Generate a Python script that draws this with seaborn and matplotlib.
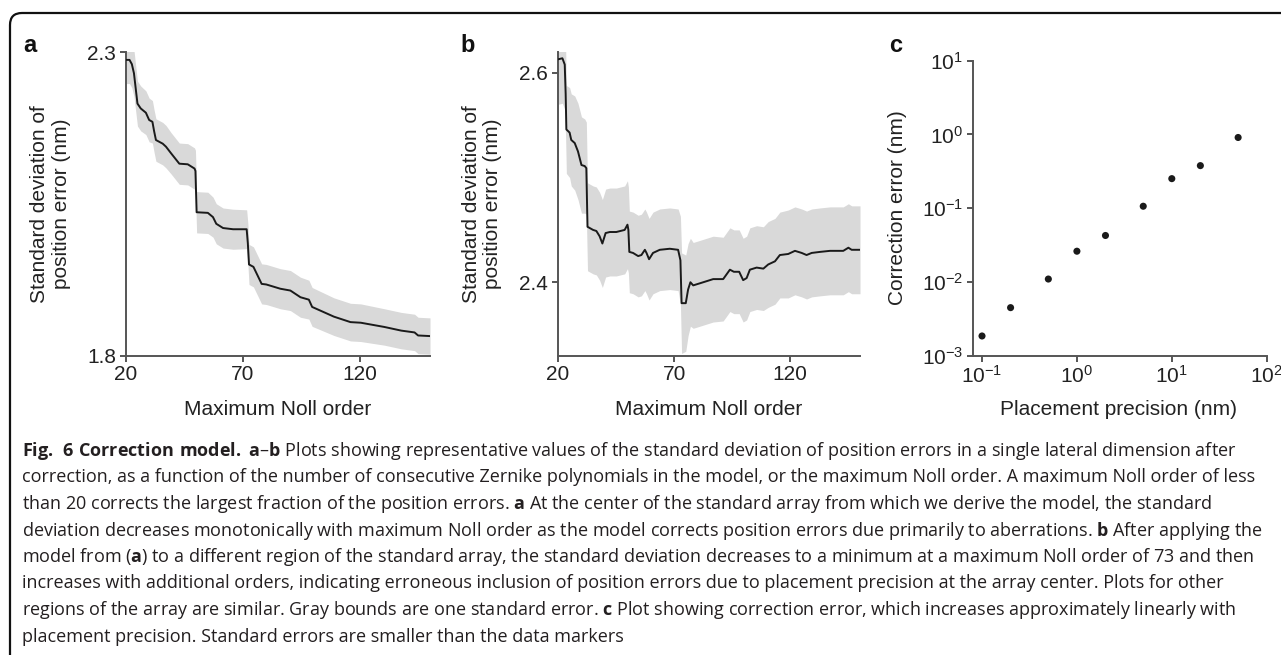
import numpy as np
import pandas as pd
import matplotlib
matplotlib.use("Agg")
import matplotlib.pyplot as plt
import seaborn as sns
from matplotlib.patches import FancyBboxPatch
from matplotlib.transforms import IdentityTransform
from matplotlib.ticker import LogLocator, NullLocator, FixedLocator

# ---------------- data ----------------
# Panel a: SD of position error vs maximum Noll order (array centre)
noll_a = [20, 21.5, 22.5, 23.4, 24.9, 26.3, 28.5, 29.9, 31.3, 32.0, 32.8, 35.7, 37.1,
          39.3, 42.8, 46.4, 49.3, 49.7, 50.2, 55.0, 57.2, 58.6, 61.5, 65.8, 71.6, 72.1,
          72.6, 74.5, 78.0, 80.0, 86.0, 90.3, 94.6, 98.2, 99.6, 108.9, 116.0, 120.4,
          130.5, 137.7, 143.4, 144.9, 150]
sd_a = [2.287, 2.287, 2.280, 2.265, 2.215, 2.207, 2.200, 2.188, 2.185, 2.170, 2.155,
        2.149, 2.144, 2.133, 2.116, 2.115, 2.108, 2.104, 2.036, 2.035, 2.028, 2.017,
        2.010, 2.008, 2.008, 1.985, 1.950, 1.946, 1.918, 1.917, 1.910, 1.907, 1.896,
        1.892, 1.880, 1.864, 1.855, 1.854, 1.847, 1.841, 1.838, 1.833, 1.832]
se_a = [0.039, 0.039, 0.039, 0.038, 0.037, 0.037, 0.036, 0.036, 0.035, 0.035, 0.035,
        0.035, 0.035, 0.034, 0.034, 0.034, 0.034, 0.034, 0.034, 0.034, 0.033, 0.033,
        0.033, 0.033, 0.032, 0.033, 0.033, 0.033, 0.033, 0.033, 0.033, 0.033, 0.033,
        0.032, 0.032, 0.031, 0.031, 0.031, 0.030, 0.030, 0.030, 0.030, 0.030]

# Panel b: same model applied to a different region of the array
noll_b = [20, 21.9, 22.9, 23.3, 23.6, 25.0, 25.7, 27.2, 28.6, 30.1, 31.5, 32.2, 32.7,
          35.1, 36.5, 37.9, 39.1, 40.5, 42.3, 45.1, 48.7, 49.9, 50.3, 50.7, 52.3, 54.5,
          55.9, 57.4, 58.1, 59.2, 60.9, 63.8, 68.1, 71.7, 72.7, 73.2, 75.0, 76.0, 77.0,
          78.2, 81.1, 86.8, 91.1, 94.0, 95.7, 98.0, 99.7, 101.2, 102.6, 105.5, 108.4,
          110.5, 113.4, 115.5, 119.1, 122.0, 124.9, 127.0, 129.2, 132.8, 137.1, 142.8,
          145.0, 146.4, 150]
sd_b = [2.613, 2.614, 2.608, 2.580, 2.546, 2.543, 2.536, 2.533, 2.525, 2.512, 2.511,
        2.509, 2.453, 2.450, 2.449, 2.444, 2.437, 2.447, 2.448, 2.448, 2.450, 2.455,
        2.450, 2.429, 2.428, 2.425, 2.426, 2.431, 2.428, 2.422, 2.428, 2.431, 2.432,
        2.431, 2.421, 2.380, 2.380, 2.393, 2.400, 2.397, 2.399, 2.403, 2.403, 2.412,
        2.410, 2.410, 2.402, 2.404, 2.412, 2.414, 2.413, 2.417, 2.420, 2.426, 2.427,
        2.430, 2.428, 2.426, 2.428, 2.429, 2.430, 2.430, 2.433, 2.431, 2.431]
se_b = [0.043, 0.043, 0.043, 0.043, 0.042, 0.043, 0.044, 0.045, 0.046, 0.046, 0.045,
        0.044, 0.042, 0.042, 0.042, 0.042, 0.042, 0.042, 0.042, 0.042, 0.042, 0.042,
        0.041, 0.039, 0.039, 0.039, 0.039, 0.039, 0.039, 0.039, 0.039, 0.039, 0.039,
        0.039, 0.042, 0.048, 0.046, 0.044, 0.042, 0.041, 0.041, 0.041, 0.040, 0.040,
        0.040, 0.040, 0.040, 0.040, 0.040, 0.040, 0.040, 0.041, 0.041, 0.041, 0.042,
        0.042, 0.042, 0.042, 0.042, 0.042, 0.042, 0.042, 0.042, 0.042, 0.042]

# Panel c: correction error vs placement precision
precision_c = [0.1, 0.2, 0.5, 1, 2, 5, 10, 20, 50]
error_c = [0.00184, 0.00446, 0.0109, 0.026, 0.0425, 0.106, 0.251, 0.377, 0.908]

xticks_ab = [20, 70, 120]
yticks_a = [1.8, 2.3]
yticks_b = [2.4, 2.6]

caption_lines = [
    r"$\mathbf{Fig.\ 6\ Correction\ model.}$ $\mathbf{a}$–$\mathbf{b}$ Plots showing representative values of the standard deviation of position errors in a single lateral dimension after",
    "correction, as a function of the number of consecutive Zernike polynomials in the model, or the maximum Noll order. A maximum Noll order of less",
    r"than 20 corrects the largest fraction of the position errors. $\mathbf{a}$ At the center of the standard array from which we derive the model, the standard",
    r"deviation decreases monotonically with maximum Noll order as the model corrects position errors due primarily to aberrations. $\mathbf{b}$ After applying the",
    r"model from ($\mathbf{a}$) to a different region of the standard array, the standard deviation decreases to a minimum at a maximum Noll order of 73 and then",
    "increases with additional orders, indicating erroneous inclusion of position errors due to placement precision at the array center. Plots for other",
    r"regions of the array are similar. Gray bounds are one standard error. $\mathbf{c}$ Plot showing correction error, which increases approximately linearly with",
    "placement precision. Standard errors are smaller than the data markers",
]

# ---------------- style ----------------
sns.set_theme(style="ticks")
plt.rcParams.update({
    "font.family": ["Liberation Sans", "DejaVu Sans"],
    "mathtext.fontset": "custom",
    "mathtext.rm": "Open Sans",
    "mathtext.bf": "Open Sans:bold",
    "axes.edgecolor": "#555555",
    "axes.linewidth": 1.4,
    "xtick.color": "#555555",
    "ytick.color": "#555555",
    "xtick.labelcolor": "#222222",
    "ytick.labelcolor": "#222222",
    "axes.labelcolor": "#222222",
})

W, H = 1281, 655
fig = plt.figure(figsize=(W / 100, H / 100), dpi=100)


def px_axes(l, t, r, b):
    return fig.add_axes([l / W, 1 - b / H, (r - l) / W, (b - t) / H])


axA = px_axes(126, 52, 430, 355.5)
axB = px_axes(558, 52, 860, 355.5)
axC = px_axes(973, 60.7, 1266.7, 355.5)

line_col = "#1a1a1a"
band_col = "#d9d9d9"

for ax, nx, sd, se in [(axA, noll_a, sd_a, se_a), (axB, noll_b, sd_b, se_b)]:
    df = pd.DataFrame({"noll": nx, "sd": sd, "se": se})
    ax.fill_between(df["noll"], df["sd"] - df["se"], df["sd"] + df["se"],
                    color=band_col, lw=0, zorder=1)
    sns.lineplot(data=df, x="noll", y="sd", ax=ax, color=line_col, lw=1.4,
                 estimator=None, sort=False, zorder=3)
    ax.set_xlim(20, 150)
    ax.xaxis.set_major_locator(FixedLocator(xticks_ab))

axA.set_ylim(1.8, 2.3)
axA.yaxis.set_major_locator(FixedLocator(yticks_a))
axB.set_ylim(2.33, 2.62)
axB.yaxis.set_major_locator(FixedLocator(yticks_b))

dfc = pd.DataFrame({"precision": precision_c, "error": error_c})
sns.scatterplot(data=dfc, x="precision", y="error", ax=axC, color=line_col,
                s=26, edgecolor="none", zorder=3)
axC.set_xscale("log")
axC.set_yscale("log")
axC.set_xlim(10 ** -1.095, 100)
axC.set_ylim(1e-3, 1e1)
axC.xaxis.set_major_locator(LogLocator(base=10, numticks=10))
axC.yaxis.set_major_locator(LogLocator(base=10, numticks=10))
axC.xaxis.set_minor_locator(NullLocator())
axC.yaxis.set_minor_locator(NullLocator())

for ax in (axA, axB, axC):
    sns.despine(ax=ax)
    ax.tick_params(axis="both", which="major", direction="out", length=4,
                   width=1.4, labelsize=15, pad=3)
    ax.set_facecolor("none")

axA.set_xlabel("Maximum Noll order", fontsize=15)
axB.set_xlabel("Maximum Noll order", fontsize=15)
axC.set_xlabel("Placement precision (nm)", fontsize=15)
axA.set_ylabel("Standard deviation of\nposition error (nm)", fontsize=15, linespacing=1.15)
axB.set_ylabel("Standard deviation of\nposition error (nm)", fontsize=15, linespacing=1.15)
axC.set_ylabel("Correction error (nm)", fontsize=15)

axA.xaxis.set_label_coords(0.5, -0.145)
axB.xaxis.set_label_coords(0.5, -0.145)
axC.xaxis.set_label_coords(0.497, -0.15)
axA.yaxis.set_label_coords(-0.182, 0.5)
axB.yaxis.set_label_coords(-0.185, 0.5)
axC.yaxis.set_label_coords(-0.224, 0.5)

# panel letters
for letter, xpx in [("a", 23), ("b", 460), ("c", 889)]:
    fig.text(xpx / W, 1 - 52 / H, letter, fontsize=17, fontweight="bold",
             color="#111111", va="baseline", ha="left")

# frame (rounded top-left corner, open to the right and bottom)
frame = FancyBboxPatch((10, -40), 1400, (H - 13) + 40,
                       boxstyle="round,pad=0,rounding_size=12",
                       transform=IdentityTransform(), fill=False,
                       edgecolor="#111111", lw=1.6, clip_on=False)
fig.add_artist(frame)

# caption
cap_texts = []
for i, s in enumerate(caption_lines):
    ypx = 456 + 26.5 * i
    t = fig.text(22 / W, 1 - ypx / H, s, fontsize=12, family=["Open Sans", "DejaVu Sans"],
                 color="#231f20", va="baseline", ha="left")
    cap_texts.append(t)

renderer = fig.canvas.get_renderer()
wmax = max(t.get_window_extent(renderer).width for t in cap_texts)
fs = 12 * 1238 / wmax
for t in cap_texts:
    t.set_fontsize(fs)

fig.savefig("out.png", dpi=100)
